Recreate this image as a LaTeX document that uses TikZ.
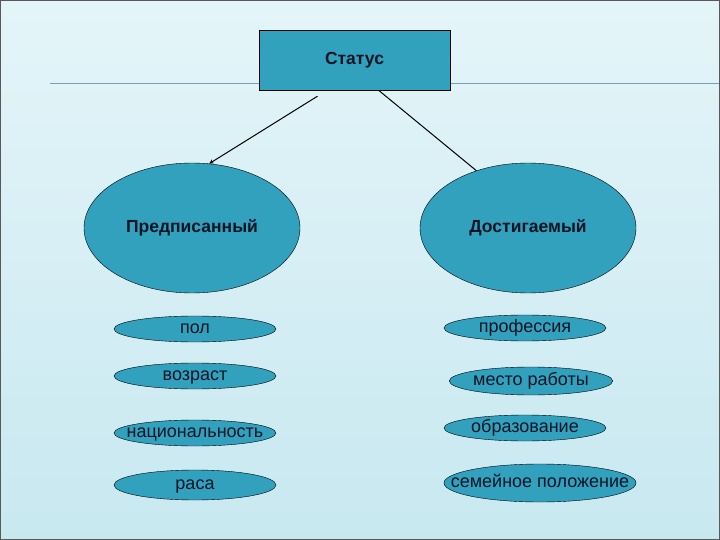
\documentclass[tikz,border=0pt]{standalone}
\usepackage{fontspec}
\setmainfont{Liberation Sans}
\usepackage{tikz}
\usetikzlibrary{shapes.geometric, arrows, positioning}
\definecolor{tealfill}{RGB}{49,161,190}
\definecolor{inktext}{RGB}{12,20,36}
\definecolor{bgtop}{RGB}{228,245,249}
\definecolor{bgbottom}{RGB}{200,232,240}
\definecolor{rulecol}{RGB}{120,160,178}
\tikzstyle{status} = [rectangle, minimum width=191pt, minimum height=60pt, inner sep=0pt, align=center, draw=black, fill=tealfill, text=inktext, font=\fontsize{17.5}{20}\selectfont\bfseries]
\tikzstyle{kind} = [ellipse, minimum width=216pt, minimum height=130pt, inner sep=0pt, align=center, draw=black, fill=tealfill, text=inktext, font=\fontsize{17.5}{20}\selectfont\bfseries]
\tikzstyle{trait} = [ellipse, minimum width=162pt, minimum height=26pt, inner sep=0pt, text height=9.4pt, text depth=0pt, draw=black, fill=tealfill, text=inktext, font=\fontsize{18}{20}\selectfont]
\tikzstyle{arrow2} = [line width=1pt,->,>=stealth]
\begin{document}
\begin{tikzpicture}[x=1pt, y=-1pt]
            % Background
            \useasboundingbox (0,0) rectangle (720,540);
            \shade[top color=bgtop, bottom color=bgbottom] (0,0) rectangle (720,540);
            \draw[rulecol, thin] (50,83) -- (720,83);
            \draw[gray!70!black, thin] (0.5,0.5) rectangle (719.5,539.5);

            % Nodes
            \node (status) [status] at (354.5,60) {Статус};
            \node (ascribed) [kind] at (192,228) {Предписанный};
            \node (achieved) [kind] at (528,228) {Достигаемый};

            \node (sex) [trait] at (195,329) {пол};
            \node (age) [trait, below of=sex, node distance=47pt] {возраст};
            \node (nation) [trait, below of=age, node distance=57pt] {\makebox[0pt]{национальность}};
            \node (race) [trait, below of=nation, node distance=52pt, minimum height=30pt] {раса};

            \node (job) [trait] at (525,328) {профессия};
            \node (workplace) [trait, below of=job, node distance=53pt, xshift=6pt, minimum height=28pt] {место работы};
            \node (education) [trait, below of=job, node distance=100pt] {образование};
            \node (family) [trait, below of=education, node distance=55pt, xshift=15pt, minimum width=192pt, minimum height=38pt] {\makebox[0pt]{семейное положение}};

            % Edges
            \draw [arrow2] ([xshift=-37pt, yshift=-6pt]status.south) -- (ascribed.75);
            \draw [line width=1pt] ([xshift=24pt]status.south) -- (achieved.132);
        \end{tikzpicture}
\end{document}
